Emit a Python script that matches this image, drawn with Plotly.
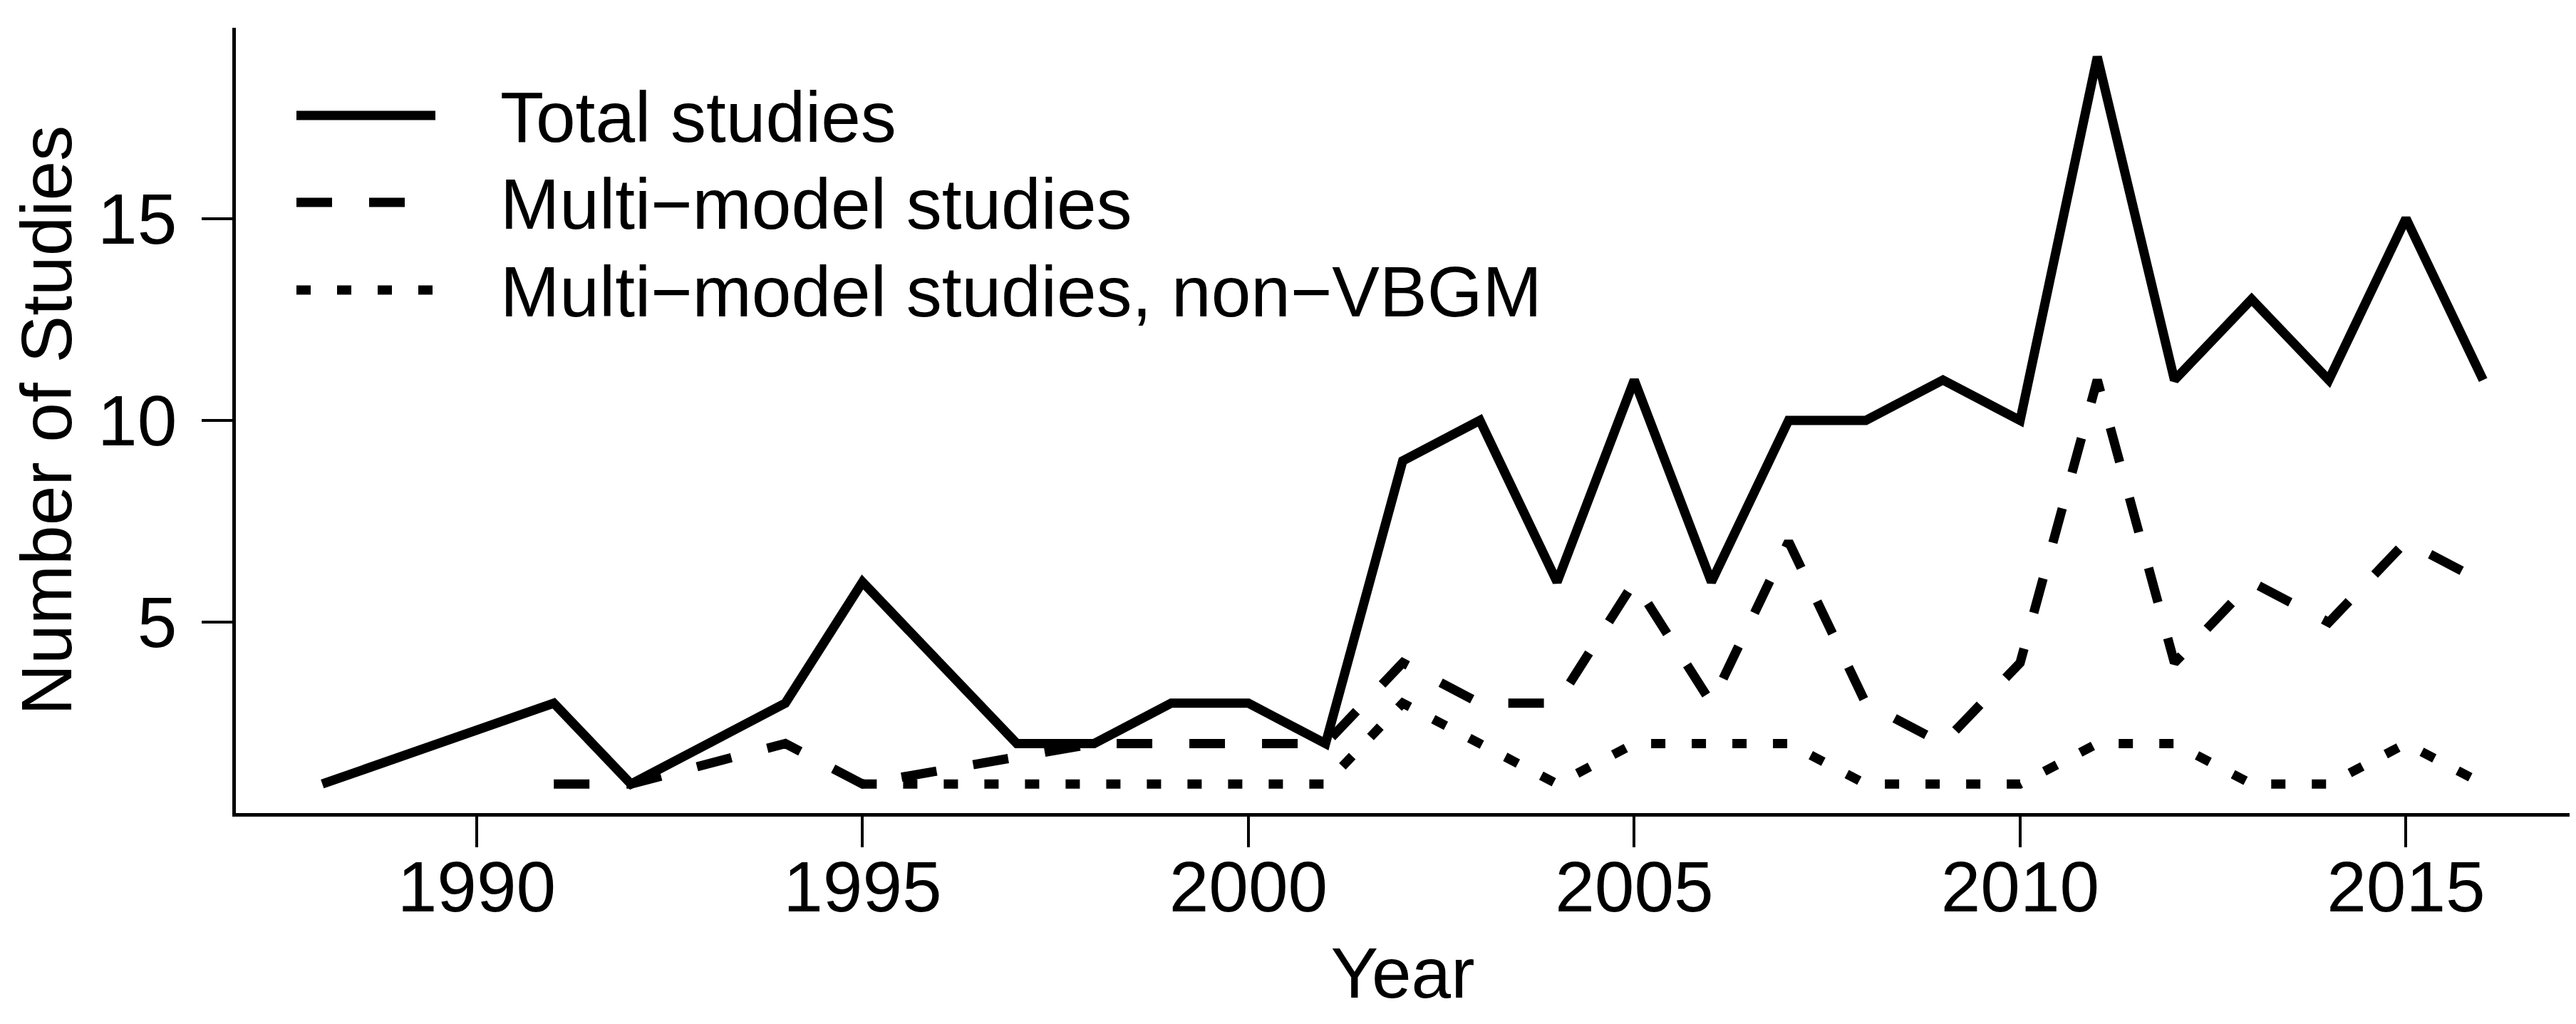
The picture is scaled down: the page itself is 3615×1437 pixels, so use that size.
import plotly.graph_objects as go

# ---- data ----
years_total = [1988, 1991, 1992, 1994, 1995, 1997, 1998, 1999, 2000, 2001,
               2002, 2003, 2004, 2005, 2006, 2007, 2008, 2009, 2010, 2011,
               2012, 2013, 2014, 2015, 2016]
total_studies = [1, 3, 1, 3, 6, 2, 2, 3, 3, 2,
                 9, 10, 6, 11, 6, 10, 10, 11, 10, 19,
                 11, 13, 11, 15, 11]

years_multi = [1991, 1992, 1994, 1995, 1998, 1999, 2000, 2001,
               2002, 2003, 2004, 2005, 2006, 2007, 2008, 2009, 2010, 2011,
               2012, 2013, 2014, 2015, 2016]
multi_model = [1, 1, 2, 1, 2, 2, 2, 2,
               4, 3, 3, 6, 3, 7, 3, 2, 4, 11,
               4, 6, 5, 7, 6]

years_nonvbgm = [1995, 1997, 1998, 1999, 2000, 2001,
                 2002, 2003, 2004, 2005, 2006, 2007, 2008, 2009, 2010, 2011,
                 2012, 2013, 2014, 2015, 2016]
multi_nonvbgm = [1, 1, 1, 1, 1, 1,
                 3, 2, 1, 2, 2, 2, 1, 1, 1, 2,
                 2, 1, 1, 2, 1]

series_names = ["Total studies", "Multi\u2212model studies",
                "Multi\u2212model studies, non\u2212VBGM"]
x_ticks = [1990, 1995, 2000, 2005, 2010, 2015]
y_ticks = [5, 10, 15]

# ---- styling ----
FONT = "Arial, Liberation Sans, Helvetica, sans-serif"
FS = 100
LW = 13
DASHES = ["solid", "50px,52px", "20px,37px"]

W, H = 3615, 1437
ML, MR, MT, MB = 323, 17, 31, 304
PW, PH = W - ML - MR, H - MT - MB

fig = go.Figure()
for xs, ys, name, dash in [(years_total, total_studies, series_names[0], DASHES[0]),
                           (years_multi, multi_model, series_names[1], DASHES[1]),
                           (years_nonvbgm, multi_nonvbgm, series_names[2], DASHES[2])]:
    fig.add_trace(go.Scatter(x=xs, y=ys, mode="lines", name=name,
                             line=dict(color="black", width=LW, dash=dash),
                             showlegend=False))

# R-style axis extension (4%)
xmin, xmax = min(years_total), max(years_total)
ymin, ymax = min(total_studies + multi_model + multi_nonvbgm), max(total_studies)
xr = [xmin - 0.04 * (xmax - xmin), xmax + 0.04 * (xmax - xmin)]
yr = [ymin - 0.04 * (ymax - ymin), ymax + 0.04 * (ymax - ymin)]


def px_x(p):
    return (p - ML) / PW


def px_y(p):
    return (H - MB - p) / PH


# manual legend (no box, like R's bty="n")
rows = [154, 276, 399]
for name, dash, ry in zip(series_names, DASHES, rows):
    fig.add_shape(type="line", xref="paper", yref="paper",
                  x0=px_x(408), x1=px_x(603), y0=px_y(ry), y1=px_y(ry),
                  line=dict(color="black", width=LW, dash=dash))
    fig.add_annotation(xref="paper", yref="paper", x=px_x(692), y=px_y(ry + 2),
                       text=name, showarrow=False, xanchor="left", yanchor="middle",
                       font=dict(family=FONT, size=FS, color="black"))

axis_common = dict(showgrid=False, zeroline=False, showline=True, linecolor="black",
                   linewidth=4.5, ticks="outside", ticklen=43, tickwidth=4,
                   tickcolor="black", tickfont=dict(family=FONT, size=FS, color="black"),
                   mirror=False)

fig.update_layout(
    width=W, height=H,
    margin=dict(l=ML, r=MR, t=MT, b=MB, autoexpand=False),
    paper_bgcolor="white", plot_bgcolor="white",
    xaxis=dict(range=xr, tickvals=x_ticks, ticktext=[str(v) for v in x_ticks],
               ticklabelstandoff=-30,
               title=dict(text="Year", font=dict(family=FONT, size=FS, color="black"),
                          standoff=33),
               **axis_common),
    yaxis=dict(range=yr, tickvals=y_ticks,
               ticktext=[str(v) for v in y_ticks],
               ticksuffix="\u00a0",
               ticklabelstandoff=15,
               title=dict(text="Number of Studies",
                          font=dict(family=FONT, size=FS, color="black"), standoff=5),
               **axis_common),
    font=dict(family=FONT, size=FS, color="black"),
)

fig.write_html("out.html")
